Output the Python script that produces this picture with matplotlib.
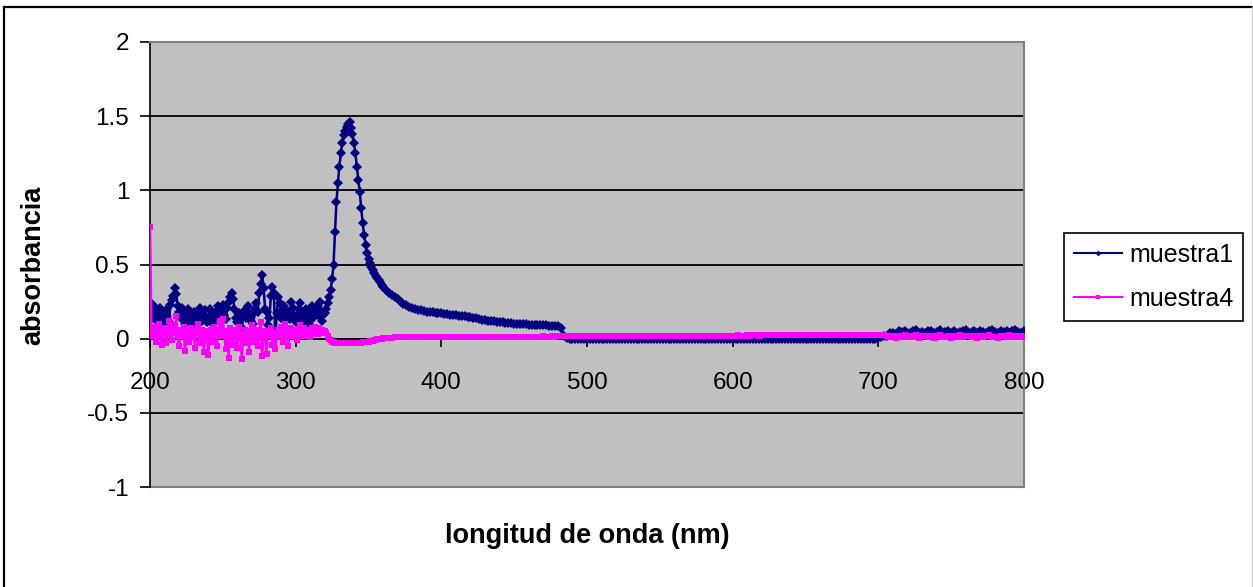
import numpy as np
import matplotlib
matplotlib.use("Agg")
import matplotlib.pyplot as plt
from matplotlib.lines import Line2D

plt.rcParams['font.family'] = ['Liberation Sans', 'DejaVu Sans']

# ---------------- data ----------------
# wavelength segments (nm)
wl_a = np.arange(200, 360, 1)       # 160 points (noise + peak)
wl_b = np.arange(360, 486, 2)       # 63 points (decay)
wl_flat = np.arange(486, 706, 2)    # 110 points
wl_tail = np.arange(706, 802, 2)    # 48 points

m1_a = [0.25, 0.20, 0.14, 0.22, 0.18, 0.12, 0.16, 0.21, 0.10, 0.17,
        0.13, 0.19, 0.15, 0.11, 0.23, 0.26, 0.29, 0.34, 0.30, 0.22,
        0.18, 0.14, 0.21, 0.16, 0.10, 0.17, 0.20, 0.13, 0.15, 0.11,
        0.18, 0.14, 0.09, 0.16, 0.21, 0.17, 0.12, 0.15, 0.19, 0.11,
        0.14, 0.20, 0.16, 0.10, 0.13, 0.18, 0.15, 0.22, 0.19, 0.12,
        0.23, 0.16, 0.13, 0.21, 0.25, 0.28, 0.31, 0.27, 0.20, 0.14,
        0.11, 0.17, 0.13, 0.07, 0.15, 0.19, 0.14, 0.22, 0.17, 0.12,
        0.16, 0.10, 0.20, 0.24, 0.18, 0.31, 0.37, 0.43, 0.34, 0.20,
        0.18, 0.09, 0.14, 0.29, 0.35, 0.31, 0.01, 0.17, 0.28, 0.24,
        0.14, 0.19, 0.22, 0.12, 0.16, 0.18, 0.13, 0.25, 0.21, 0.15,
        0.11, 0.16, 0.20, 0.24, 0.14, 0.18, 0.12, 0.20, 0.15, 0.10,
        0.17, 0.22, 0.14, 0.16, 0.20, 0.23, 0.15, 0.25, 0.12, 0.16,
        0.17, 0.20, 0.24, 0.28, 0.33, 0.40, 0.50, 0.72, 0.92, 1.05,
        1.16, 1.25, 1.32, 1.37, 1.40, 1.43, 1.45, 1.46, 1.42, 1.38,
        1.32, 1.25, 1.16, 1.07, 0.99, 0.88, 0.78, 0.70, 0.63, 0.58,
        0.54, 0.51, 0.48, 0.46, 0.44, 0.425, 0.41, 0.395, 0.38, 0.365]
m1_b = [0.35, 0.33, 0.31, 0.295, 0.28, 0.265, 0.25, 0.235, 0.225, 0.215,
        0.205, 0.20, 0.195, 0.19, 0.186, 0.183, 0.18, 0.178, 0.175, 0.172,
        0.17, 0.168, 0.165, 0.162, 0.16, 0.157, 0.155, 0.152, 0.15, 0.147,
        0.144, 0.14, 0.136, 0.132, 0.128, 0.125, 0.122, 0.119, 0.116, 0.114,
        0.112, 0.11, 0.108, 0.106, 0.104, 0.102, 0.10, 0.099, 0.097, 0.096,
        0.095, 0.094, 0.093, 0.092, 0.091, 0.09, 0.089, 0.088, 0.087, 0.087,
        0.086, 0.075, 0.02]
m1_flat = [0.004, 0.001, 0.0, -0.001, 0.0, 0.0, -0.002, 0.0, -0.001, 0.0,
           0.0, -0.001, -0.002, 0.0, -0.001, 0.0, 0.0, -0.002, -0.001, 0.0,
           -0.001, 0.0, 0.0, -0.002, 0.0, -0.001, 0.0, 0.0, -0.001, -0.002,
           0.0, 0.0, -0.001, 0.0, -0.002, 0.0, -0.001, 0.0, 0.0, -0.001,
           -0.002, 0.0, 0.0, -0.001, 0.0, -0.001, -0.002, 0.0, 0.0, -0.001,
           0.0, -0.002, 0.0, -0.001, 0.0, 0.0, -0.001, -0.002, 0.0, 0.0,
           -0.001, 0.0, -0.002, 0.0, -0.001, 0.0, 0.0, -0.001, 0.0, -0.002,
           0.0, -0.001, 0.0, 0.0, -0.002, -0.001, 0.0, 0.0, -0.001, 0.0,
           -0.002, 0.0, -0.001, 0.0, 0.0, -0.001, -0.002, 0.0, 0.0, -0.001,
           0.0, 0.0, -0.002, -0.001, 0.0, 0.0, -0.001, 0.0, -0.002, 0.0,
           -0.001, 0.0, 0.0, -0.001, 0.0, -0.002, 0.0, 0.005, 0.012, 0.02]
m1_tail = [0.02, 0.035, 0.04, 0.03, 0.05, 0.045, 0.055, 0.035, 0.04, 0.05,
           0.06, 0.04, 0.045, 0.035, 0.05, 0.055, 0.04, 0.045, 0.06, 0.035,
           0.045, 0.05, 0.04, 0.055, 0.035, 0.045, 0.05, 0.06, 0.04, 0.045,
           0.05, 0.035, 0.055, 0.045, 0.04, 0.05, 0.06, 0.045, 0.035, 0.05,
           0.045, 0.055, 0.04, 0.05, 0.06, 0.045, 0.04, 0.05]

m4_a = [0.75, 0.06, 0.02, 0.08, -0.02, 0.04, 0.10, 0.01, -0.04, 0.05,
        0.07, -0.03, 0.03, 0.12, 0.05, -0.01, 0.09, 0.04, 0.15, 0.02,
        -0.05, 0.06, 0.02, 0.08, -0.08, 0.03, 0.05, -0.02, 0.07, 0.01,
        0.04, -0.06, 0.06, 0.10, -0.03, 0.02, 0.06, -0.09, 0.03, 0.05,
        -0.11, 0.02, 0.06, -0.02, 0.08, 0.04, -0.05, 0.06, 0.12, 0.02,
        0.13, 0.03, -0.07, 0.05, -0.13, 0.07, 0.02, -0.04, 0.06, 0.01,
        -0.06, 0.08, 0.03, -0.14, 0.02, 0.06, -0.03, 0.04, -0.09, 0.05,
        0.09, -0.02, 0.03, 0.06, -0.05, 0.02, 0.11, -0.12, 0.05, 0.02,
        -0.10, 0.05, 0.02, 0.07, -0.04, 0.04, -0.07, 0.01, 0.06, 0.03,
        0.08, -0.02, 0.05, 0.10, 0.02, -0.05, 0.06, 0.07, 0.02, 0.04,
        0.06, -0.01, 0.03, 0.09, 0.05, 0.02, 0.07, 0.03, 0.06, 0.04,
        0.01, 0.07, 0.03, 0.08, 0.05, 0.03, 0.07, 0.04, 0.06, 0.04,
        0.05, 0.04, 0.02, 0.0, -0.01, -0.02, -0.025, -0.03, -0.03, -0.03,
        -0.032, -0.03, -0.03, -0.031, -0.03, -0.03, -0.029, -0.03, -0.028, -0.03,
        -0.03, -0.029, -0.028, -0.028, -0.027, -0.026, -0.025, -0.024, -0.022, -0.021,
        -0.02, -0.018, -0.015, -0.013, -0.01, -0.008, -0.005, -0.003, 0.0, 0.001]
m4_b = [0.003, 0.005, 0.006, 0.007, 0.008, 0.008, 0.009, 0.009, 0.01, 0.01,
        0.01, 0.01, 0.011, 0.01, 0.01, 0.011, 0.01, 0.011, 0.011, 0.01,
        0.011, 0.011, 0.01, 0.011, 0.012, 0.011, 0.011, 0.012, 0.011, 0.012,
        0.012, 0.011, 0.012, 0.012, 0.012, 0.013, 0.012, 0.012, 0.013, 0.012,
        0.013, 0.013, 0.012, 0.013, 0.013, 0.014, 0.013, 0.013, 0.014, 0.013,
        0.014, 0.014, 0.013, 0.014, 0.014, 0.015, 0.014, 0.014, 0.015, 0.014,
        0.015, 0.015, 0.015]
m4_flat = [0.015, 0.015, 0.016, 0.015, 0.016, 0.016, 0.015, 0.016, 0.016, 0.017,
           0.016, 0.016, 0.017, 0.016, 0.017, 0.017, 0.016, 0.017, 0.017, 0.018,
           0.017, 0.017, 0.018, 0.017, 0.018, 0.018, 0.017, 0.018, 0.018, 0.019,
           0.018, 0.018, 0.019, 0.018, 0.019, 0.019, 0.018, 0.019, 0.019, 0.02,
           0.019, 0.019, 0.02, 0.019, 0.02, 0.02, 0.019, 0.02, 0.02, 0.021,
           0.02, 0.02, 0.021, 0.02, 0.021, 0.021, 0.02, 0.021, 0.021, 0.022,
           0.021, 0.021, 0.022, 0.021, 0.022, 0.022, 0.021, 0.022, 0.022, 0.023,
           0.022, 0.022, 0.023, 0.022, 0.023, 0.023, 0.022, 0.023, 0.023, 0.024,
           0.023, 0.023, 0.024, 0.023, 0.024, 0.024, 0.023, 0.024, 0.024, 0.024,
           0.024, 0.023, 0.024, 0.024, 0.024, 0.025, 0.024, 0.024, 0.025, 0.024,
           0.025, 0.024, 0.025, 0.025, 0.024, 0.025, 0.025, 0.024, 0.025, 0.025]
m4_tail = [0.02, 0.01, 0.015, 0.005, 0.02, 0.012, 0.025, 0.008, 0.018, 0.01,
           0.022, 0.006, 0.015, 0.02, 0.01, 0.018, 0.004, 0.016, 0.024, 0.01,
           0.012, 0.02, 0.006, 0.018, 0.014, 0.022, 0.008, 0.015, 0.02, 0.01,
           0.016, 0.005, 0.02, 0.012, 0.018, 0.025, 0.01, 0.014, 0.006, 0.02,
           0.015, 0.01, 0.022, 0.012, 0.018, 0.008, 0.016, 0.012]

series_names = ["muestra1", "muestra4"]
y_ticks = [-1, -0.5, 0, 0.5, 1, 1.5, 2]
y_tick_labels = ["-1", "-0.5", "0", "0.5", "1", "1.5", "2"]
x_ticks = [200, 300, 400, 500, 600, 700, 800]
x_tick_labels = ["200", "300", "400", "500", "600", "700", "800"]

wl = np.concatenate([wl_a, wl_b, wl_flat, wl_tail])
muestra1 = np.array(m1_a + m1_b + m1_flat + m1_tail)
muestra4 = np.array(m4_a + m4_b + m4_flat + m4_tail)

# ---------------- figure ----------------
W, H = 1253, 587
fig = plt.figure(figsize=(W / 100, H / 100), dpi=100)
fig.patch.set_facecolor("white")

# outer chart border
fig.add_artist(Line2D([4 / W, 4 / W], [0, 1 - 7 / H], color="black", lw=1.6, transform=fig.transFigure))
fig.add_artist(Line2D([4 / W, 1252 / W], [1 - 7 / H, 1 - 7 / H], color="black", lw=1.6, transform=fig.transFigure))
fig.add_artist(Line2D([1252 / W, 1252 / W], [0, 1 - 7 / H], color="#d0d0d0", lw=1.0, transform=fig.transFigure))

left, right, top, bottom = 150, 1024, 42, 487
ax = fig.add_axes([left / W, 1 - bottom / H, (right - left) / W, (bottom - top) / H])
ax.set_facecolor("#C0C0C0")

ax.set_xlim(200, 800)
ax.set_ylim(-1, 2)

# grid lines
for yv in y_ticks:
    ax.axhline(yv, color="black", lw=1.3, zorder=1)

l1, = ax.plot(wl, muestra1, color="#000080", lw=1.8, marker="D", markersize=4.8,
              markeredgewidth=0, zorder=3, label=series_names[0])
l2, = ax.plot(wl, muestra4, color="#FF00FF", lw=1.8, marker="s", markersize=4.3,
              markeredgewidth=0, zorder=4, label=series_names[1])

# spines
for s in ["top", "right"]:
    ax.spines[s].set_color("#808080")
    ax.spines[s].set_linewidth(1.5)
ax.spines["left"].set_color("black")
ax.spines["left"].set_linewidth(1.2)
ax.spines["bottom"].set_position(("data", 0))
ax.spines["bottom"].set_color("black")
ax.spines["bottom"].set_linewidth(1.3)

# border for the bottom of plot area
ax.add_artist(Line2D([0, 1], [0, 0], color="#808080", lw=1.5, transform=ax.transAxes, clip_on=False))

ax.set_yticks(y_ticks)
ax.set_yticklabels(y_tick_labels)
ax.set_xticks(x_ticks)
ax.set_xticklabels(x_tick_labels)
ax.tick_params(axis="y", direction="out", length=7, width=1.2, pad=8, labelsize=17.5, colors="black")
ax.tick_params(axis="x", direction="out", length=6, width=1.2, pad=18, labelsize=17.5, colors="black")

fig.text(33 / W, 1 - 265 / H, "absorbancia", rotation=90, ha="center", va="center",
         fontsize=19.5, fontweight="bold")
fig.text(587 / W, 1 - 536 / H, "longitud de onda (nm)", ha="center", va="center",
         fontsize=19.5, fontweight="bold")

leg = fig.legend(handles=[l1, l2], loc="center left",
                 bbox_to_anchor=(1064 / W, 1 - 277 / H), fontsize=18,
                 frameon=True, fancybox=False, shadow=False, framealpha=1,
                 edgecolor="black", handlelength=1.9, handletextpad=0.3,
                 borderpad=0.4, labelspacing=0.8, markerscale=0.6, borderaxespad=0)
leg.get_frame().set_linewidth(1.2)
for h in leg.legend_handles:
    h.set_linewidth(1.5)

fig.savefig("out.png", dpi=100)
